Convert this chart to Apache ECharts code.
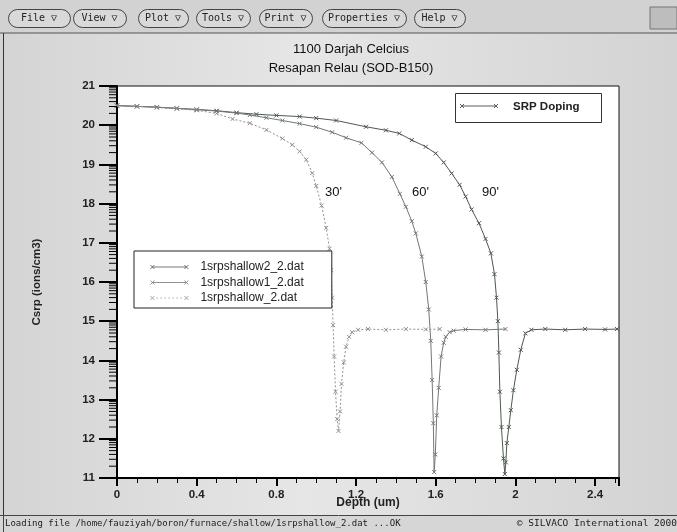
<!DOCTYPE html>
<html>
<head>
<meta charset="utf-8">
<title>SRP Doping</title>
<script src="https://cdn.jsdelivr.net/npm/echarts@6/dist/echarts.min.js"></script>
<style>
  html, body { margin: 0; padding: 0; }
  #chart { width: 677px; height: 532px; }
</style>
</head>
<body>
<div id="chart"></div>
<script>
// Depth (um) and log10 carrier concentration for each anneal time
const depth30 = [0, 0.1, 0.2, 0.3, 0.4, 0.5, 0.58, 0.667, 0.75, 0.83, 0.88, 0.917, 0.95, 0.98, 1.0, 1.027, 1.05, 1.067, 1.075, 1.08, 1.085, 1.09, 1.097, 1.105, 1.112, 1.12, 1.127, 1.138, 1.15, 1.165, 1.18, 1.21, 1.26, 1.35, 1.45, 1.55, 1.62];
const csrp30  = [20.50, 20.48, 20.45, 20.42, 20.38, 20.30, 20.16, 20.05, 19.88, 19.66, 19.50, 19.33, 19.12, 18.78, 18.45, 17.95, 17.38, 16.85, 16.30, 15.60, 14.90, 14.10, 13.20, 12.50, 12.20, 12.70, 13.40, 13.95, 14.35, 14.60, 14.72, 14.78, 14.80, 14.78, 14.80, 14.79, 14.80];

const depth60 = [0, 0.1, 0.2, 0.3, 0.4, 0.5, 0.6, 0.667, 0.75, 0.83, 0.917, 1.0, 1.08, 1.15, 1.227, 1.28, 1.33, 1.38, 1.42, 1.45, 1.48, 1.5, 1.53, 1.55, 1.565, 1.575, 1.582, 1.588, 1.592, 1.598, 1.605, 1.615, 1.627, 1.64, 1.65, 1.67, 1.69, 1.75, 1.85, 1.95];
const csrp60  = [20.50, 20.48, 20.46, 20.43, 20.40, 20.36, 20.31, 20.26, 20.19, 20.12, 20.04, 19.95, 19.82, 19.68, 19.55, 19.30, 19.05, 18.68, 18.25, 17.92, 17.55, 17.24, 16.65, 16.00, 15.30, 14.50, 13.50, 12.40, 11.15, 11.60, 12.60, 13.30, 14.10, 14.45, 14.60, 14.72, 14.76, 14.79, 14.78, 14.80];

const depth90 = [0, 0.1, 0.2, 0.3, 0.4, 0.5, 0.6, 0.7, 0.8, 0.917, 1.0, 1.1, 1.25, 1.35, 1.417, 1.48, 1.55, 1.6, 1.64, 1.68, 1.72, 1.75, 1.78, 1.817, 1.85, 1.877, 1.895, 1.905, 1.912, 1.917, 1.922, 1.93, 1.94, 1.947, 1.952, 1.957, 1.967, 1.977, 1.99, 2.007, 2.027, 2.05, 2.08, 2.15, 2.25, 2.35, 2.45, 2.51];
const csrp90  = [20.50, 20.48, 20.46, 20.43, 20.40, 20.37, 20.32, 20.28, 20.25, 20.22, 20.18, 20.12, 19.96, 19.87, 19.79, 19.62, 19.45, 19.28, 19.05, 18.77, 18.48, 18.18, 17.85, 17.50, 17.10, 16.73, 16.20, 15.60, 15.00, 14.20, 13.20, 12.30, 11.50, 11.10, 11.40, 11.89, 12.30, 12.73, 13.24, 13.76, 14.27, 14.69, 14.78, 14.80, 14.78, 14.80, 14.79, 14.80];

const seriesNames = ['1srpshallow2_2.dat', '1srpshallow1_2.dat', '1srpshallow_2.dat'];
const xTicks = [0, 0.4, 0.8, 1.2, 1.6, 2, 2.4];
const yTicks = [11, 12, 13, 14, 15, 16, 17, 18, 19, 20, 21];
const decadeSteps = [2, 3, 4, 5, 6, 7, 8, 9];
const curveNotes = [{ text: "30'", x: 325, y: 192 }, { text: "60'", x: 412, y: 192 }, { text: "90'", x: 482, y: 192 }];
const menuItems = [
  { label: 'File', x: 8, w: 62 }, { label: 'View', x: 73, w: 53 }, { label: 'Plot', x: 138, w: 50 },
  { label: 'Tools', x: 196, w: 54 }, { label: 'Print', x: 259, w: 53 }, { label: 'Properties', x: 322, w: 84 },
  { label: 'Help', x: 414, w: 51 }
];

const pairs = (xs, ys) => xs.map((d, i) => [d, ys[i]]);
// log-decade minor tick positions between the integer labels
const yMinor = [];
for (let k = 11; k < 21; k++) decadeSteps.forEach(s => yMinor.push(k + Math.log10(s)));

const cross = 'path://M0,0L10,10M10,0L0,10';
const iconSolid = 'path://M0,0L4,4M4,0L0,4M2,2L36,2M34,0L38,4M38,0L34,4';
let dots = 'path://M0,0L4,4M4,0L0,4M34,0L38,4M38,0L34,4';
for (let p = 6; p < 33; p += 4) dots += 'M' + p + ',2L' + (p + 1.5) + ',2';
const iconDotted = dots;

const colors = ['#4d5a4d', '#737873', '#8f918f'];
const font = 'Liberation Sans, Arial, sans-serif';

function curve(name, data, color, type, size) {
  return {
    name, type: 'line', data, smooth: false,
    symbol: cross, symbolSize: size, showSymbol: true,
    lineStyle: { color, width: 1, type },
    itemStyle: { color: 'transparent', borderColor: color, borderWidth: 1 },
    emphasis: { disabled: true }, z: 3
  };
}

function seg(x1, y1, x2, y2, stroke, width, z) {
  return { type: 'line', shape: { x1, y1, x2, y2 }, style: { stroke, lineWidth: width }, z };
}

const graphics = [];
// window chrome: menu bar, panel frame and status bar
graphics.push({ type: 'rect', shape: { x: 0, y: 0, width: 677, height: 33 }, style: { fill: '#d2d2d2' }, z: -10 });
graphics.push(seg(0, 33, 677, 33, '#555', 1, -9));
graphics.push(seg(3.5, 33, 3.5, 515, '#333', 1, -9));
graphics.push({ type: 'rect', shape: { x: 0, y: 515, width: 677, height: 17 }, style: { fill: '#d6d6d6' }, z: -10 });
graphics.push(seg(0, 515.5, 677, 515.5, '#444', 1, -9));
graphics.push(seg(3.5, 516, 3.5, 532, '#444', 1, -9));
graphics.push({ type: 'rect', shape: { x: 650, y: 7, width: 27, height: 22 }, style: { fill: '#bdbdbd', stroke: '#777', lineWidth: 1 }, z: -8 });
menuItems.forEach(m => {
  graphics.push({ type: 'rect', shape: { x: m.x + 0.5, y: 9.5, width: m.w, height: 18, r: 9 }, style: { fill: '#d9d9d9', stroke: '#444', lineWidth: 1 }, z: -7 });
  graphics.push({ type: 'text', x: m.x + m.w / 2, y: 18.5, style: { text: m.label + ' \u25BD', fill: '#222', font: '10px DejaVu Sans Mono, monospace', textAlign: 'center', textVerticalAlign: 'middle' }, z: -6 });
});
graphics.push({ type: 'text', x: 5, y: 524, style: { text: 'Loading file /home/fauziyah/boron/furnace/shallow/1srpshallow_2.dat ...OK', fill: '#222', font: '9px DejaVu Sans Mono, monospace', textVerticalAlign: 'middle' }, z: -6 });
graphics.push({ type: 'text', x: 677, y: 524, style: { text: '\u00A9 SILVACO International 2000', fill: '#222', font: '9.5px DejaVu Sans Mono, monospace', textAlign: 'right', textVerticalAlign: 'middle' }, z: -6 });
// upper legend box
graphics.push({ type: 'rect', shape: { x: 455.5, y: 93.5, width: 146, height: 29 }, style: { fill: '#fff', stroke: '#333', lineWidth: 1 }, z: 10 });
const srpStroke = '#556055';
[[460, 104, 464, 108], [464, 104, 460, 108], [462, 106, 496, 106], [494, 104, 498, 108], [498, 104, 494, 108]]
  .forEach(s => graphics.push(seg(s[0], s[1], s[2], s[3], srpStroke, 1, 11)));
graphics.push({ type: 'text', x: 513, y: 107, style: { text: 'SRP Doping', fill: '#222', font: 'bold 11.5px ' + font, textVerticalAlign: 'middle' }, z: 11 });
curveNotes.forEach(n => {
  graphics.push({ type: 'text', x: n.x, y: n.y, style: { text: n.text, fill: '#111', font: '13px ' + font, textVerticalAlign: 'middle' }, z: 11 });
});

const chart = echarts.init(document.getElementById('chart'), null, { renderer: 'canvas' });
chart.setOption({
  animation: false,
  backgroundColor: {
    type: 'linear', x: 0, y: 0, x2: 1, y2: 0,
    colorStops: [{ offset: 0, color: '#d4d4d4' }, { offset: 0.45, color: '#e6e6e6' }, { offset: 1, color: '#d3d3d3' }]
  },
  title: {
    text: '1100 Darjah Celcius\nResapan Relau (SOD-B150)',
    left: 346, top: 35, textAlign: 'center',
    textStyle: { fontFamily: font, fontSize: 13, fontWeight: 'normal', color: '#111', lineHeight: 19 }
  },
  graphic: graphics,
  grid: { left: 117, right: 58, top: 86, bottom: 54, show: true, backgroundColor: '#fff', borderColor: '#111', borderWidth: 1 },
  legend: {
    data: [
      { name: seriesNames[0], icon: iconSolid },
      { name: seriesNames[1], icon: iconSolid },
      { name: seriesNames[2], icon: iconDotted }
    ],
    orient: 'vertical', left: 134, top: 251,
    padding: [9, 28, 3, 16], itemGap: 1.5, itemWidth: 38, itemHeight: 5,
    backgroundColor: '#fff', borderColor: '#222', borderWidth: 1,
    selectedMode: false,
    itemStyle: { borderWidth: 0.8 },
    textStyle: { fontFamily: font, fontSize: 12, color: '#222', lineHeight: 14, padding: [0, 0, 0, 7] }
  },
  xAxis: {
    type: 'value', min: 0, max: 2.52, interval: 0.4,
    name: 'Depth (um)', nameLocation: 'middle', nameGap: 19, nameMoveOverlap: false,
    nameTextStyle: { fontFamily: font, fontSize: 12, fontWeight: 'bold', color: '#222' },
    axisLine: { show: true, onZero: false, lineStyle: { color: '#000', width: 2 } },
    axisTick: { show: true, length: 8, lineStyle: { color: '#000', width: 2 } },
    minorTick: { show: true, splitNumber: 4, length: 5, lineStyle: { color: '#000', width: 1 } },
    splitLine: { show: false },
    axisLabel: {
      margin: 11, fontFamily: font, fontSize: 11.5, fontWeight: 'bold', color: '#222',
      formatter: v => (xTicks.some(t => Math.abs(t - v) < 1e-6) ? String(+v.toFixed(1)) : '')
    }
  },
  yAxis: {
    type: 'value', min: 11, max: 21, interval: 1,
    name: 'Csrp (ions/cm3)', nameLocation: 'middle', nameGap: 74, nameMoveOverlap: false,
    nameTextStyle: { fontFamily: font, fontSize: 11.5, fontWeight: 'bold', color: '#222' },
    axisLine: { show: true, onZero: false, lineStyle: { color: '#000', width: 2 } },
    axisTick: { show: true, length: 18, lineStyle: { color: '#000', width: 2 } },
    splitLine: { show: false },
    axisLabel: {
      margin: 22, fontFamily: font, fontSize: 11.5, fontWeight: 'bold', color: '#222',
      formatter: v => (yTicks.includes(v) ? String(v) : '')
    }
  },
  series: [
    curve(seriesNames[0], pairs(depth90, csrp90), colors[0], 'solid', 4),
    curve(seriesNames[1], pairs(depth60, csrp60), colors[1], 'solid', 4),
    curve(seriesNames[2], pairs(depth30, csrp30), colors[2], [2, 2], 4),
    {
      name: 'yMinorTicks', type: 'custom', silent: true, clip: false, z: 5,
      data: yMinor.map(v => [v]),
      renderItem: (params, api) => {
        const p = api.coord([0, api.value(0)]);
        return { type: 'line', shape: { x1: p[0] - 8, y1: p[1], x2: p[0], y2: p[1] }, style: { stroke: '#000', lineWidth: 1 } };
      }
    }
  ]
});
</script>
</body>
</html>
